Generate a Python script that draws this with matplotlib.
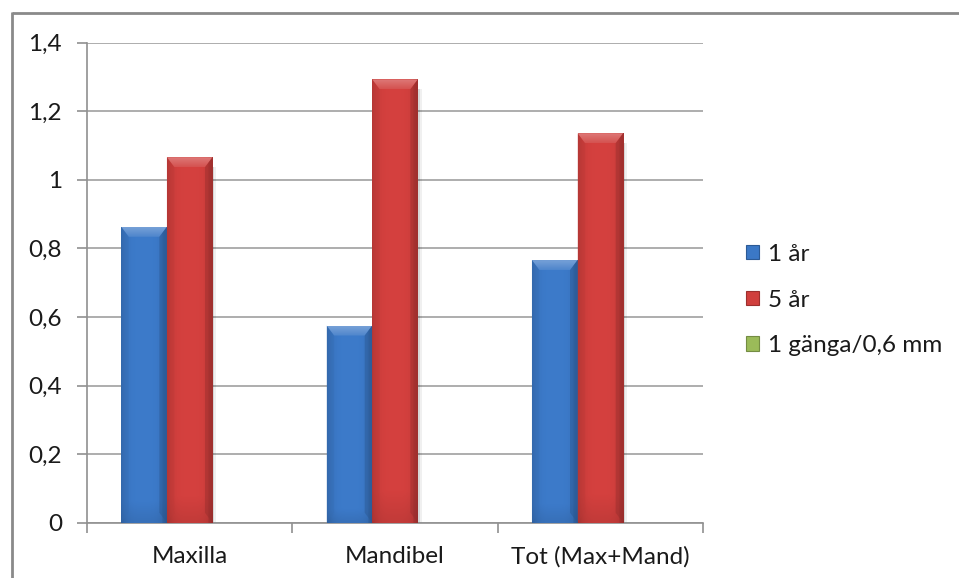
import numpy as np
import matplotlib
matplotlib.use("Agg")
import matplotlib.pyplot as plt
from matplotlib.patches import Polygon, Patch
from matplotlib.lines import Line2D

categories = ["Maxilla", "Mandibel", "Tot (Max+Mand)"]
series_names = ["1 år", "5 år", "1 gänga/0,6 mm"]
values_1yr = [0.863, 0.575, 0.766]
values_5yr = [1.066, 1.293, 1.136]
values_thread = [0.0, 0.0, 0.0]
yticks = [0, 0.2, 0.4, 0.6, 0.8, 1.0, 1.2, 1.4]
ytick_labels = ["0", "0,2", "0,4", "0,6", "0,8", "1", "1,2", "1,4"]
colors = ["#3b78c6", "#d03f3d", "#9bbb59"]

FONT = "Lato"
FS = 17.5
plt.rcParams["font.family"] = [FONT, "DejaVu Sans"]


def shade(c, f):
    rgb = np.array(matplotlib.colors.to_rgb(c))
    if f >= 1:
        return np.clip(rgb + (1 - rgb) * (f - 1), 0, 1)
    return np.clip(rgb * f, 0, 1)


W, H, DPI = 959, 578, 100
fig = plt.figure(figsize=(W / DPI, H / DPI), dpi=DPI)
ax = fig.add_axes([87 / W, 1 - 522.7 / H, (703 - 87) / W, 480 / H])

n_series = 3
bar_w = 1 / (n_series + 1.5)
x = np.arange(len(categories))
series = [values_1yr, values_5yr, values_thread]

ax.set_xlim(-0.5, len(categories) - 0.5)
ax.set_ylim(0, 1.4)

# pixel size of one data unit, used for the bevel depth
px_x = (703 - 87) / 3.0
px_y = 480 / 1.4
dx = 7.5 / px_x
dy = 10 / px_y

for si, (vals, col) in enumerate(zip(series, colors)):
    offs = (si - (n_series - 1) / 2) * bar_w
    bars = ax.bar(x + offs, vals, width=bar_w, color=col, zorder=3,
                  linewidth=0)
    base = np.array(matplotlib.colors.to_rgb(col))
    for b in bars:
        x0, w, h = b.get_x(), b.get_width(), b.get_height()
        if h <= 0:
            continue
        # soft drop shadow on the right
        for k, a in [(2, 0.10), (4, 0.06)]:
            ax.add_patch(Polygon([(x0 + w, h - dy), (x0 + w + k / px_x, h - dy),
                                  (x0 + w + k / px_x, 0), (x0 + w, 0)],
                                 closed=True, facecolor="#000000", alpha=a,
                                 linewidth=0, zorder=2))
        # horizontal gradient across the bar face
        t = np.linspace(0, 1, 80)
        prof = 0.86 + 0.16 * (1 - np.abs(2 * t - 1) ** 4)
        prof[t > 0.9] *= 0.92
        v = np.linspace(0, 1, 60)
        vprof = 0.92 + 0.08 * np.clip(v * 15, 0, 1)
        img = np.clip(base[None, None, :] * (vprof[:, None, None] * prof[None, :, None]), 0, 1)
        im = ax.imshow(img, extent=(x0, x0 + w, 0, h), origin="lower",
                       aspect="auto", zorder=3.5, interpolation="bilinear")
        im.set_clip_path(b)
        # top bevel with vertical light gradient
        top = Polygon([(x0, h), (x0 + w, h), (x0 + w - dx, h - dy),
                       (x0 + dx, h - dy)], closed=True, facecolor="none",
                      linewidth=0, zorder=4)
        ax.add_patch(top)
        g = np.linspace(1.10, 1.30, 20)
        gimg = np.array([shade(col, f) for f in g])[:, None, :].repeat(4, axis=1)
        gi = ax.imshow(gimg, extent=(x0, x0 + w, h - dy, h), origin="lower",
                       aspect="auto", zorder=4, interpolation="bilinear")
        gi.set_clip_path(top)
        # side bevels
        ax.add_patch(Polygon([(x0, h), (x0 + dx, h - dy), (x0 + dx, dy), (x0, 0)],
                             closed=True, facecolor=shade(col, 0.9),
                             alpha=0.35, linewidth=0, zorder=4.1))
        ax.add_patch(Polygon([(x0 + w, h), (x0 + w - dx, h - dy), (x0 + w - dx, dy),
                              (x0 + w, 0)], closed=True,
                             facecolor=shade(col, 0.72), alpha=0.45,
                             linewidth=0, zorder=4.1))

ax.set_xlim(-0.5, len(categories) - 0.5)
ax.set_ylim(0, 1.4)

ax.set_yticks(yticks)
ax.set_yticklabels(ytick_labels)
ax.set_xticks(x)
ax.set_xticklabels(categories)
ax.set_xticks(np.arange(len(categories) + 1) - 0.5, minor=True)

ax.yaxis.grid(True, color="#a0a0a0", linewidth=1.2, zorder=0)
ax.set_axisbelow(True)
for s in ["top", "right"]:
    ax.spines[s].set_visible(False)
for s in ["left", "bottom"]:
    ax.spines[s].set_color("#909090")
    ax.spines[s].set_linewidth(1.2)

ax.tick_params(axis="y", direction="out", length=7, width=1.2, color="#909090",
               pad=11, labelsize=FS, labelcolor="#1a1a1a")
ax.tick_params(axis="x", which="major", length=0, pad=17, labelsize=FS,
               labelcolor="#1a1a1a")
ax.tick_params(axis="x", which="minor", direction="out", length=7, width=1.2,
               color="#909090")

handles = [Patch(facecolor=c, edgecolor=shade(c, 0.75), linewidth=0.8)
           for c in colors]
fig.legend(handles, series_names, loc="center left",
           bbox_to_anchor=(724 / W, 1 - 300 / H), frameon=False,
           fontsize=FS, handlelength=0.55, handleheight=0.55,
           handletextpad=0.35, labelspacing=1.02, labelcolor="#1a1a1a")

# chart frame
fig.add_artist(Line2D([11.5 / W, 11.5 / W], [1 - 12 / H, 0], transform=fig.transFigure,
                      color="#8a8a8a", linewidth=2, solid_capstyle="butt"))
fig.add_artist(Line2D([11.5 / W, 1.0], [1 - 12.5 / H, 1 - 12.5 / H],
                      transform=fig.transFigure, color="#8a8a8a", linewidth=2,
                      solid_capstyle="butt"))

fig.savefig("out.png", dpi=DPI, facecolor="white")
